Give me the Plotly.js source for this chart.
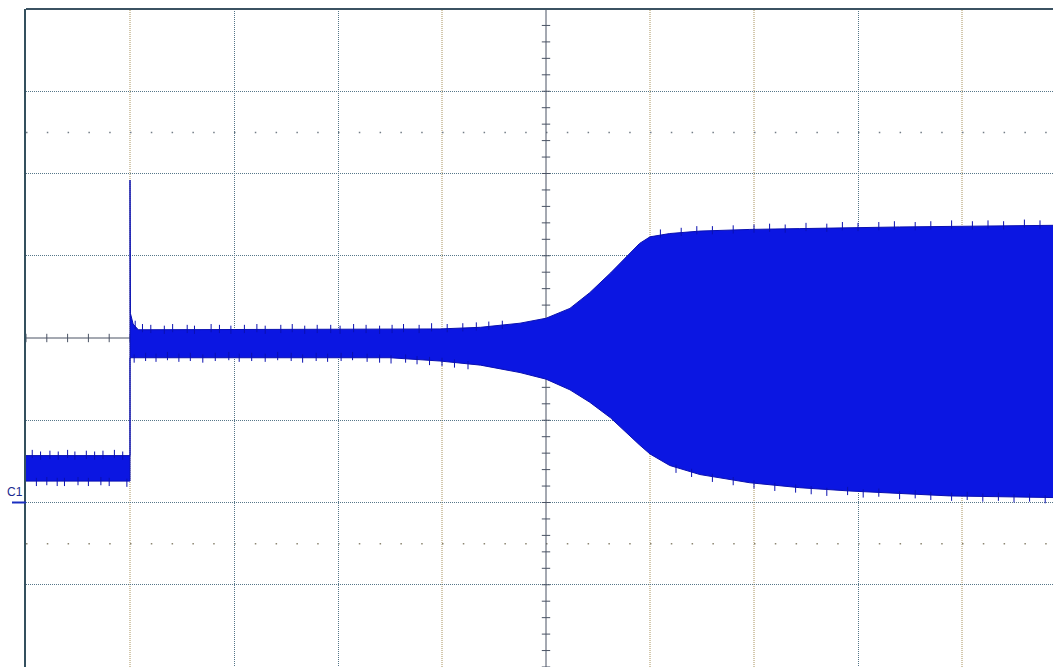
<!DOCTYPE html>
<html>
<head>
<meta charset="utf-8">
<script src="https://cdn.plot.ly/plotly-3.0.1.min.js"></script>
<style>
html,body{margin:0;padding:0;background:#fff;overflow:hidden;}
#chart{width:1053px;height:667px;}
</style>
</head>
<body>
<div id="chart"></div>
<script>
// Units: screen divisions (10 horizontal, 8 vertical; centre = 0 on y, 5 on x)
// Envelope upper edge
const tUpper = [0, 1.0, 1.0, 1.004, 1.03, 1.08, 3.98, 4.37, 4.75, 5.0, 5.23, 5.42, 5.62, 5.76, 5.90, 6.0, 6.19, 6.48, 6.96, 7.44, 8.40, 9.875];
const vUpper = [-1.43, -1.43, 1.92, 0.30, 0.17, 0.10, 0.11, 0.13, 0.18, 0.24, 0.36, 0.55, 0.79, 0.97, 1.15, 1.23, 1.27, 1.30, 1.32, 1.33, 1.35, 1.37];
// Envelope lower edge
const tLower = [0, 1.0, 1.0, 3.5, 3.98, 4.37, 4.75, 5.0, 5.23, 5.42, 5.62, 5.76, 5.90, 6.0, 6.19, 6.48, 6.96, 7.44, 7.92, 8.40, 8.88, 9.875];
const vLower = [-1.74, -1.74, -0.24, -0.24, -0.28, -0.33, -0.42, -0.50, -0.63, -0.78, -0.97, -1.14, -1.30, -1.41, -1.55, -1.66, -1.76, -1.82, -1.86, -1.89, -1.92, -1.94];

// Noise spikes on the upper edge (time, tip)
const spikeUpT = [0.06,0.14,0.23,0.31,0.40,0.47,0.58,0.66,0.74,0.85,0.93,
  1.05,1.12,1.20,1.33,1.41,1.55,1.62,1.78,1.86,1.97,2.10,2.22,2.30,2.45,2.56,2.68,2.80,2.93,3.02,3.15,3.27,3.40,3.52,3.63,3.78,3.90,4.05,4.20,4.33,4.45,4.58,
  6.10,6.30,6.45,6.60,6.80,7.00,7.15,7.30,7.50,7.70,7.85,8.00,8.20,8.35,8.55,8.70,8.90,9.10,9.25,9.40,9.60,9.75];
const spikeUpTip = [-1.36,-1.38,-1.37,-1.38,-1.36,-1.38,-1.37,-1.38,-1.37,-1.36,-1.38,
  0.21,0.17,0.16,0.15,0.17,0.16,0.15,0.17,0.16,0.15,0.16,0.17,0.15,0.16,0.17,0.15,0.16,0.16,0.15,0.17,0.16,0.15,0.16,0.17,0.16,0.18,0.17,0.18,0.19,0.20,0.21,
  1.32,1.34,1.36,1.36,1.37,1.38,1.39,1.38,1.40,1.39,1.41,1.40,1.41,1.42,1.41,1.42,1.43,1.42,1.43,1.42,1.44,1.43];
// Noise spikes on the lower edge (time, tip)
const spikeLoT = [0.10,0.20,0.30,0.37,0.50,0.60,0.72,0.80,0.97,
  1.04,1.15,1.25,1.36,1.47,1.58,1.70,1.82,1.95,2.05,2.17,2.30,2.42,2.55,2.66,2.79,2.90,3.03,3.14,3.28,3.40,3.51,3.65,3.76,3.88,4.00,4.12,4.25,
  6.25,6.40,6.60,6.80,7.00,7.20,7.40,7.55,7.70,7.90,8.05,8.20,8.40,8.55,8.70,8.90,9.05,9.20,9.35,9.50,9.65,9.80];
const spikeLoTip = [-1.80,-1.79,-1.80,-1.80,-1.79,-1.80,-1.79,-1.80,-1.81,
  -0.30,-0.28,-0.29,-0.27,-0.29,-0.28,-0.30,-0.28,-0.27,-0.29,-0.28,-0.29,-0.27,-0.28,-0.30,-0.28,-0.29,-0.28,-0.27,-0.29,-0.30,-0.31,-0.30,-0.32,-0.33,-0.34,-0.36,-0.38,
  -1.64,-1.69,-1.75,-1.79,-1.83,-1.86,-1.88,-1.90,-1.92,-1.91,-1.94,-1.93,-1.96,-1.95,-1.97,-1.98,-1.97,-1.99,-1.98,-2.00,-1.99,-2.01];

// Graticule
const blueGridX = [2, 3, 8];
const tanGridX = [1, 4, 6, 7, 9];
const gridY = [-3, -2, -1, 1, 2, 3];
const halfDivRows = [2.5, -2.5];
const channelLabel = 'C1';
const channelGround = -2;

const XMAX = 9.875;
const YMAX = 4;
const CENTER_X = 5;
const MINOR = 0.2;
const WAVE_FILL = '#0b16e2';
const WAVE_EDGE = '#0a10b0';
const AXIS_COL = '#4a5364';

// spike segments
const sx = [], sy = [];
spikeUpT.forEach((t, i) => { sx.push(t, t, null); sy.push(spikeUpTip[i], spikeUpTip[i] - 0.1, null); });
spikeLoT.forEach((t, i) => { sx.push(t, t, null); sy.push(spikeLoTip[i], spikeLoTip[i] + 0.1, null); });

// centre-axis tick positions
const hTicks = [], vTicks = [];
for (let k = 0; k * MINOR <= XMAX + 1e-9; k++) hTicks.push(+(k * MINOR).toFixed(3));
for (let k = -YMAX / MINOR; k <= YMAX / MINOR; k++) vTicks.push(+(k * MINOR).toFixed(3));

const traces = [
  // centre horizontal axis with ticks
  {x: [0, XMAX], y: [0, 0], mode: 'lines', line: {color: AXIS_COL, width: 1}, hoverinfo: 'skip', showlegend: false},
  {x: hTicks, y: hTicks.map(() => 0), mode: 'markers', marker: {symbol: 'line-ns', size: 6, line: {color: AXIS_COL, width: 1}}, hoverinfo: 'skip', showlegend: false},
  // centre vertical axis with ticks
  {x: [CENTER_X, CENTER_X], y: [-YMAX, YMAX], mode: 'lines', line: {color: AXIS_COL, width: 1}, hoverinfo: 'skip', showlegend: false},
  {x: vTicks.map(() => CENTER_X), y: vTicks, mode: 'markers', marker: {symbol: 'line-ew', size: 6, line: {color: AXIS_COL, width: 1}}, hoverinfo: 'skip', showlegend: false},
  // waveform envelope
  {x: tLower, y: vLower, mode: 'lines', line: {color: WAVE_EDGE, width: 1}, hoverinfo: 'skip', showlegend: false},
  {x: tUpper, y: vUpper, mode: 'lines', fill: 'tonexty', fillcolor: WAVE_FILL, line: {color: WAVE_EDGE, width: 1}, hoverinfo: 'skip', showlegend: false},
  {x: sx, y: sy, mode: 'lines', connectgaps: false, line: {color: WAVE_EDGE, width: 1}, hoverinfo: 'skip', showlegend: false}
];

const shapes = [];
tanGridX.forEach(v => shapes.push({type: 'line', xref: 'x', x0: v, x1: v, yref: 'paper', y0: 0, y1: 1,
  line: {color: '#a8925c', width: 1, dash: '1px,1px'}, layer: 'below'}));
halfDivRows.forEach((v, i) => shapes.push({type: 'line', xref: 'paper', x0: 0, x1: 1, yref: 'y', y0: v, y1: v,
  line: {color: i === 0 ? '#737d86' : '#8c8672', width: 1.5, dash: '1.5px,19.3px'}, layer: 'below'}));
// top border
shapes.push({type: 'line', xref: 'paper', x0: 0, x1: 1, yref: 'paper', y0: 1, y1: 1, line: {color: '#3b5262', width: 2}, layer: 'above'});
// channel ground marker
shapes.push({type: 'line', xref: 'paper', x0: -14 / 1027, x1: 0, yref: 'y', y0: channelGround, y1: channelGround, line: {color: '#1a2fc0', width: 2}});

const layout = {
  width: 1053, height: 667,
  margin: {l: 26, r: 0, t: 9, b: 0, pad: 0},
  paper_bgcolor: '#ffffff', plot_bgcolor: '#ffffff',
  showlegend: false,
  xaxis: {
    range: [0, XMAX], tickvals: blueGridX, showgrid: true, gridcolor: '#557587', griddash: '1px,1px', gridwidth: 1,
    showticklabels: false, ticks: '', zeroline: false, showline: false, fixedrange: true
  },
  yaxis: {
    range: [-YMAX, YMAX], tickvals: gridY, showgrid: true, gridcolor: '#577789', griddash: '1px,1px', gridwidth: 1,
    showticklabels: false, ticks: '', zeroline: false, showline: true, linecolor: '#34505e', linewidth: 2, fixedrange: true
  },
  shapes: shapes,
  annotations: [
    {text: channelLabel, xref: 'paper', x: 0, xanchor: 'right', xshift: -1, yref: 'y', y: channelGround, yanchor: 'bottom', yshift: 2,
     showarrow: false, font: {family: 'Liberation Sans, Arial, sans-serif', size: 12, color: '#1a2a90'}}
  ]
};

Plotly.newPlot('chart', traces, layout, {staticPlot: true, displayModeBar: false});
</script>
</body>
</html>
